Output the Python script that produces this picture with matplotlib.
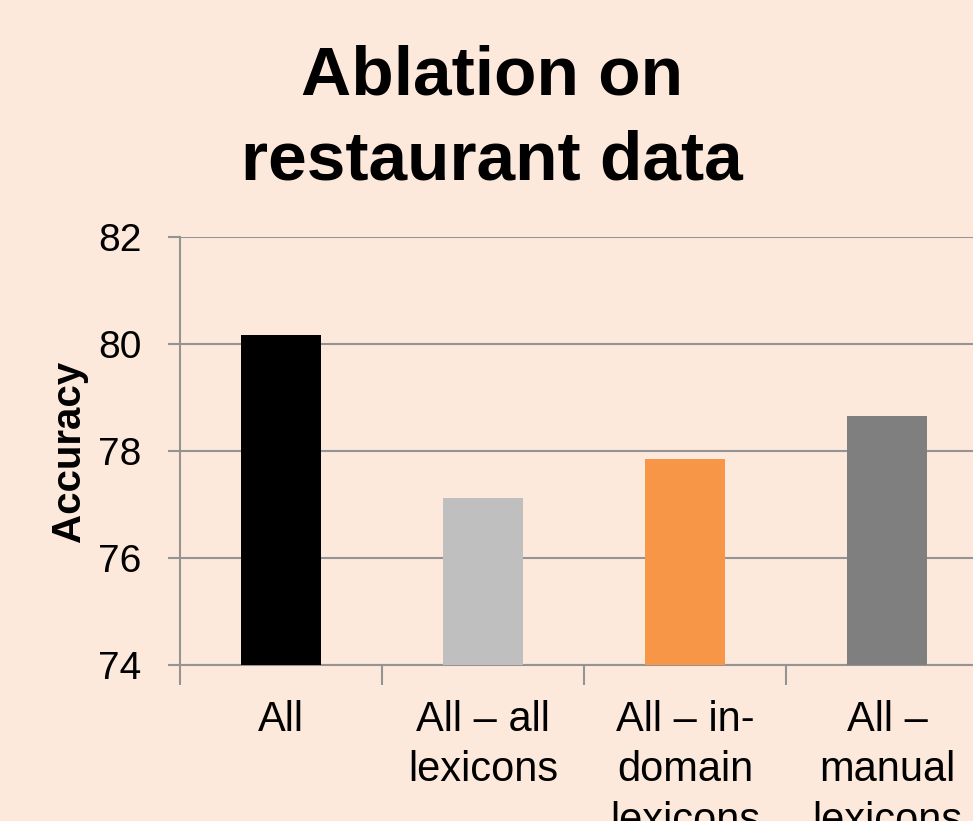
import matplotlib
matplotlib.use("Agg")
import matplotlib.pyplot as plt
import numpy as np


categories = [
    "All",
    "All – all\nlexicons",
    "All – in-\ndomain\nlexicons",
    "All –\nmanual\nlexicons",
]
accuracy = [80.17, 77.12, 77.85, 78.65]
bar_colors = ["#000000", "#BFBFBF", "#F79646", "#7F7F7F"]
y_ticks = [74, 76, 78, 80, 82]

BG = "#FDE9DB"
GRID = "#949494"


def main():

    plt.rcParams["font.family"] = ["Liberation Sans", "DejaVu Sans"]

    fig = plt.figure(figsize=(9.73, 8.21), dpi=100, facecolor=BG)

    # axes run past the right edge, like the cropped slide
    ax = fig.add_axes([180 / 973, 156 / 821, 808 / 973, 428 / 821])
    ax.set_facecolor(BG)

    x = np.arange(len(categories))
    ax.bar(x, accuracy, width=0.4, color=bar_colors, zorder=3)

    ax.set_xlim(-0.5, len(categories) - 0.5)
    ax.set_ylim(74, 82)

    ax.set_yticks(y_ticks)
    ax.set_yticklabels([str(t) for t in y_ticks], fontsize=28)
    ax.tick_params(axis="y", length=8.6, width=1.5, color=GRID, pad=19)

    # labels centred under bars, tick marks between categories
    ax.set_xticks(x)
    ax.set_xticklabels(categories, fontsize=30, linespacing=1.34)
    ax.tick_params(axis="x", which="major", length=0, pad=25)
    ax.set_xticks(np.arange(len(categories)) - 0.5, minor=True)
    ax.tick_params(axis="x", which="minor", length=14.4, width=1.5, color=GRID)

    ax.grid(axis="y", color=GRID, linewidth=1.5, zorder=0)
    ax.set_axisbelow(True)

    for side in ["top", "right"]:
        ax.spines[side].set_visible(False)
    for side in ["left", "bottom"]:
        ax.spines[side].set_color(GRID)
        ax.spines[side].set_linewidth(1.5)

    ax.set_ylabel("Accuracy", fontsize=29, fontweight="bold")
    ax.yaxis.set_label_coords(-0.114, 0.5)

    fig.text(492 / 973, 1 - 119 / 821, "Ablation on\nrestaurant data",
             ha="center", va="center", fontsize=50, fontweight="bold",
             linespacing=1.42)

    fig.savefig("out.png", dpi=100, facecolor=BG)


if __name__ == "__main__":
    main()
